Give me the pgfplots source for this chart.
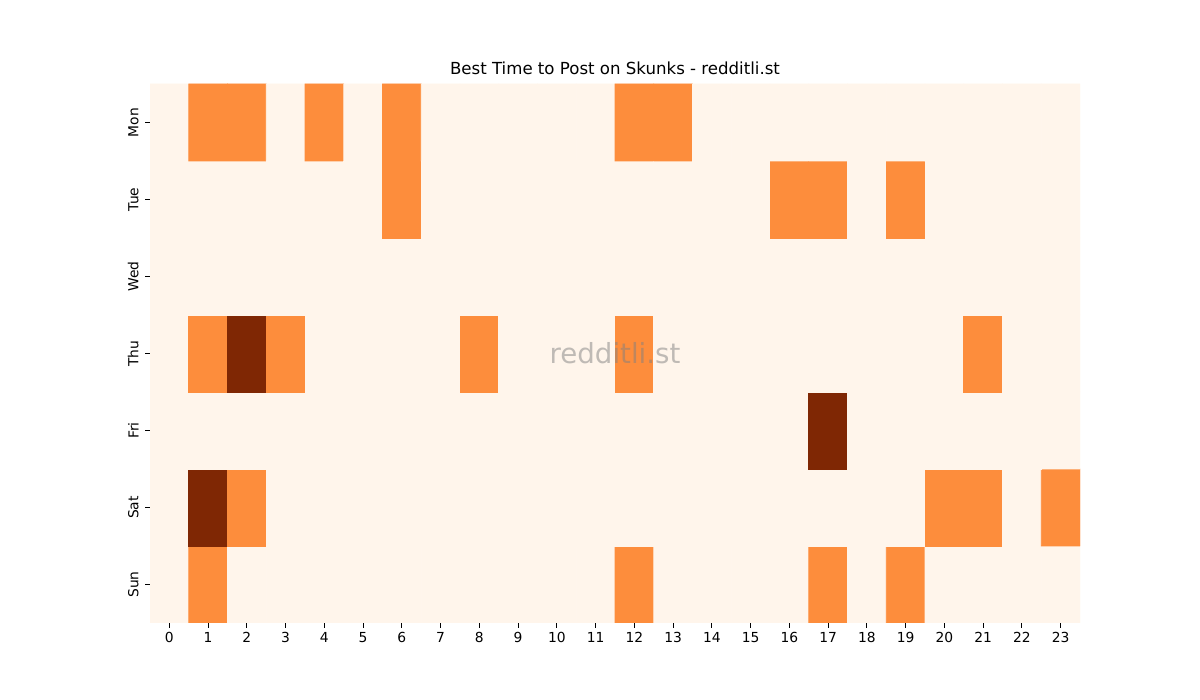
\documentclass[border=0pt]{standalone}
\usepackage{fontspec}
\setmainfont{DejaVu Sans}
\usepackage{pgfplots}
\pgfplotsset{compat=1.18}
\begin{document}
\begin{tikzpicture}
\path[use as bounding box] (0,0) rectangle (12in,7in);
\begin{axis}[
    at={(1.5in,0.77in)}, anchor=south west,
    scale only axis,
    width=9.3in, height=5.39in,
    xmin=-0.5, xmax=23.5, ymin=-0.5, ymax=6.5,
    axis line style={draw=none},
    xtick={0,...,23},
    ytick={0,...,6},
    yticklabels={Sun,Sat,Fri,Thu,Wed,Tue,Mon},
    yticklabel style={rotate=90, anchor=south, inner ysep=4.5pt},
    xtick pos=left, ytick pos=left,
    tick align=outside,
    major tick length=3.5pt,
    tick style={black, line width=0.6pt},
    tick label style={font=\fontsize{10}{12}\selectfont},
    /pgf/number format/assume math mode=true,
    title={Best Time to Post on Skunks - redditli.st},
    title style={font=\fontsize{12}{14}\selectfont, yshift=-3pt},
    colormap={oranges}{rgb255=(255,245,235) rgb255=(253,141,60) rgb255=(127,39,4)},
    point meta min=0, point meta max=2,
    ]
% rows: Sun (y=0) ... Mon (y=6); columns: hour 0..23
\addplot[matrix plot*, mesh/cols=24, point meta=explicit] coordinates {
(0,0)[0] (1,0)[1] (2,0)[0] (3,0)[0] (4,0)[0] (5,0)[0] (6,0)[0] (7,0)[0] (8,0)[0] (9,0)[0] (10,0)[0] (11,0)[0] (12,0)[1] (13,0)[0] (14,0)[0] (15,0)[0] (16,0)[0] (17,0)[1] (18,0)[0] (19,0)[1] (20,0)[0] (21,0)[0] (22,0)[0] (23,0)[0]

(0,1)[0] (1,1)[2] (2,1)[1] (3,1)[0] (4,1)[0] (5,1)[0] (6,1)[0] (7,1)[0] (8,1)[0] (9,1)[0] (10,1)[0] (11,1)[0] (12,1)[0] (13,1)[0] (14,1)[0] (15,1)[0] (16,1)[0] (17,1)[0] (18,1)[0] (19,1)[0] (20,1)[1] (21,1)[1] (22,1)[0] (23,1)[1]

(0,2)[0] (1,2)[0] (2,2)[0] (3,2)[0] (4,2)[0] (5,2)[0] (6,2)[0] (7,2)[0] (8,2)[0] (9,2)[0] (10,2)[0] (11,2)[0] (12,2)[0] (13,2)[0] (14,2)[0] (15,2)[0] (16,2)[0] (17,2)[2] (18,2)[0] (19,2)[0] (20,2)[0] (21,2)[0] (22,2)[0] (23,2)[0]

(0,3)[0] (1,3)[1] (2,3)[2] (3,3)[1] (4,3)[0] (5,3)[0] (6,3)[0] (7,3)[0] (8,3)[1] (9,3)[0] (10,3)[0] (11,3)[0] (12,3)[1] (13,3)[0] (14,3)[0] (15,3)[0] (16,3)[0] (17,3)[0] (18,3)[0] (19,3)[0] (20,3)[0] (21,3)[1] (22,3)[0] (23,3)[0]

(0,4)[0] (1,4)[0] (2,4)[0] (3,4)[0] (4,4)[0] (5,4)[0] (6,4)[0] (7,4)[0] (8,4)[0] (9,4)[0] (10,4)[0] (11,4)[0] (12,4)[0] (13,4)[0] (14,4)[0] (15,4)[0] (16,4)[0] (17,4)[0] (18,4)[0] (19,4)[0] (20,4)[0] (21,4)[0] (22,4)[0] (23,4)[0]

(0,5)[0] (1,5)[0] (2,5)[0] (3,5)[0] (4,5)[0] (5,5)[0] (6,5)[1] (7,5)[0] (8,5)[0] (9,5)[0] (10,5)[0] (11,5)[0] (12,5)[0] (13,5)[0] (14,5)[0] (15,5)[0] (16,5)[1] (17,5)[1] (18,5)[0] (19,5)[1] (20,5)[0] (21,5)[0] (22,5)[0] (23,5)[0]

(0,6)[0] (1,6)[1] (2,6)[1] (3,6)[0] (4,6)[1] (5,6)[0] (6,6)[1] (7,6)[0] (8,6)[0] (9,6)[0] (10,6)[0] (11,6)[0] (12,6)[1] (13,6)[1] (14,6)[0] (15,6)[0] (16,6)[0] (17,6)[0] (18,6)[0] (19,6)[0] (20,6)[0] (21,6)[0] (22,6)[0] (23,6)[0]
};
\node[text=gray, opacity=0.5, font=\fontsize{20}{24}\selectfont] at (axis cs:11.5,3) {redditli.st};
\end{axis}
\end{tikzpicture}
\end{document}
